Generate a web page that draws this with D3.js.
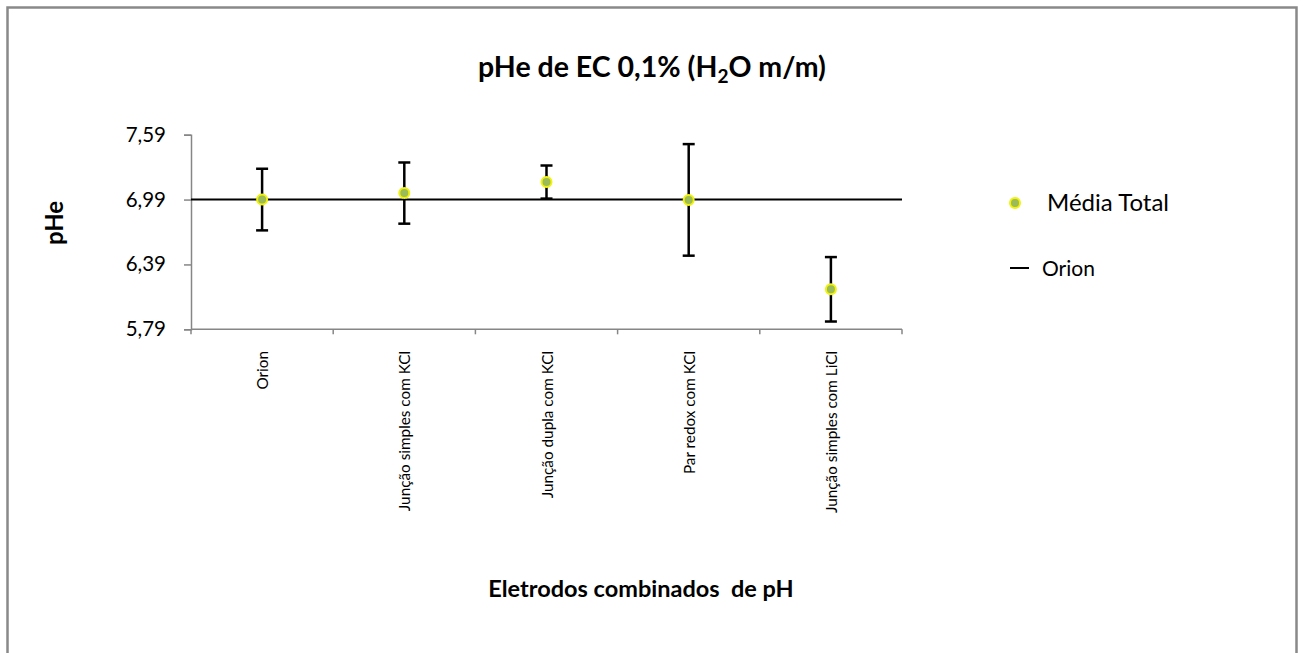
<!DOCTYPE html>
<html>
<head>
<meta charset="utf-8">
<script src="https://cdn.jsdelivr.net/npm/d3@7"></script>
<style>
  body { margin: 0; background: #fff; }
  text { font-family: Lato, "Open Sans", sans-serif; fill: #000; }
</style>
</head>
<body>
<svg width="1303" height="653"></svg>
<script>
// chart data
var categories = ["Orion", "Junção simples com KCl", "Junção dupla com KCl", "Par redox com KCl", "Junção simples com LiCl"];
var means = [6.99, 7.05, 7.152, 6.987, 6.16];
var errors = [0.285, 0.283, 0.153, 0.516, 0.298];
var orionRef = 6.99;
var yTicks = [5.79, 6.39, 6.99, 7.59];

var svg = d3.select("svg");

// outer frame
svg.append("rect")
  .attr("x", 7.5).attr("y", 7.5)
  .attr("width", 1289).attr("height", 660)
  .attr("fill", "#fff")
  .attr("stroke", "#898989")
  .attr("stroke-width", 2.5);

var plotLeft = 191, plotRight = 902, plotTop = 134.7, plotBottom = 329.3;

var x = d3.scaleBand().domain(categories).range([plotLeft, plotRight]);
var y = d3.scaleLinear().domain([5.79, 7.59]).range([plotBottom, plotTop]);

// y axis
var yAxis = svg.append("g")
  .attr("transform", "translate(" + plotLeft + ",0)")
  .call(d3.axisLeft(y).tickValues(yTicks).tickSize(7).tickPadding(18)
    .tickFormat(function(d) { return d3.format(".2f")(d).replace(".", ","); }));
yAxis.select(".domain").attr("stroke", "#868686").attr("stroke-width", 1.5);
yAxis.selectAll(".tick line").attr("stroke", "#868686").attr("stroke-width", 1.5);
yAxis.selectAll(".tick text").attr("font-size", 20.5).attr("font-family", "Lato, sans-serif").attr("fill", "#000");

// x axis: ticks on category boundaries
var xAxisG = svg.append("g");
xAxisG.append("line")
  .attr("x1", plotLeft).attr("x2", plotRight)
  .attr("y1", plotBottom).attr("y2", plotBottom)
  .attr("stroke", "#868686").attr("stroke-width", 1.5);
var bounds = categories.map(function(c) { return x(c); }).concat([plotRight]);
xAxisG.selectAll(".bt").data(bounds).enter().append("line")
  .attr("x1", function(d) { return d; }).attr("x2", function(d) { return d; })
  .attr("y1", plotBottom).attr("y2", plotBottom + 5)
  .attr("stroke", "#868686").attr("stroke-width", 1.5);
xAxisG.selectAll(".xl").data(categories).enter().append("text")
  .attr("transform", function(d) {
    return "translate(" + (x(d) + x.bandwidth() / 2 + 6) + ",351) rotate(-90)";
  })
  .attr("text-anchor", "end")
  .attr("font-size", 15.3)
  .text(function(d) { return d; });

// Orion reference line
svg.append("line")
  .attr("x1", plotLeft).attr("x2", plotRight)
  .attr("y1", y(orionRef)).attr("y2", y(orionRef))
  .attr("stroke", "#000").attr("stroke-width", 2);

// error bars
var bars = svg.append("g").selectAll("g").data(categories).enter().append("g")
  .attr("transform", function(d) { return "translate(" + (x(d) + x.bandwidth() / 2) + ",0)"; });
bars.append("line")
  .attr("y1", function(d, i) { return y(means[i] + errors[i]); })
  .attr("y2", function(d, i) { return y(means[i] - errors[i]); })
  .attr("stroke", "#000").attr("stroke-width", 2.5);
bars.append("line")
  .attr("x1", -6).attr("x2", 6)
  .attr("y1", function(d, i) { return y(means[i] + errors[i]); })
  .attr("y2", function(d, i) { return y(means[i] + errors[i]); })
  .attr("stroke", "#000").attr("stroke-width", 2.5);
bars.append("line")
  .attr("x1", -6).attr("x2", 6)
  .attr("y1", function(d, i) { return y(means[i] - errors[i]); })
  .attr("y2", function(d, i) { return y(means[i] - errors[i]); })
  .attr("stroke", "#000").attr("stroke-width", 2.5);
bars.append("circle")
  .attr("cy", function(d, i) { return y(means[i]); })
  .attr("r", 5)
  .attr("fill", "#9BBB59")
  .attr("stroke", "#F2F20A")
  .attr("stroke-width", 2);

// title
var title = svg.append("text")
  .attr("x", 652).attr("y", 77)
  .attr("text-anchor", "middle")
  .attr("font-size", 28.5)
  .attr("font-weight", "bold");
title.append("tspan").text("pHe de EC 0,1% (H");
title.append("tspan").attr("font-size", 19).attr("dy", 6).text("2");
title.append("tspan").attr("dy", -6).text("O m/m)");

// axis titles
svg.append("text")
  .attr("transform", "translate(63,223) rotate(-90)")
  .attr("text-anchor", "middle")
  .attr("font-size", 24)
  .attr("font-weight", "bold")
  .text("pHe");
svg.append("text")
  .attr("x", 641).attr("y", 597)
  .attr("text-anchor", "middle")
  .attr("font-size", 23.5)
  .attr("font-weight", "bold")
  .style("white-space", "pre")
  .text("Eletrodos combinados  de pH");

// legend
svg.append("circle")
  .attr("cx", 1015).attr("cy", 203).attr("r", 5)
  .attr("fill", "#9BBB59").attr("stroke", "#F2F20A").attr("stroke-width", 2);
svg.append("text")
  .attr("x", 1047).attr("y", 211)
  .attr("font-size", 24)
  .text("Média Total");
svg.append("line")
  .attr("x1", 1010).attr("x2", 1029).attr("y1", 268).attr("y2", 268)
  .attr("stroke", "#000").attr("stroke-width", 2);
svg.append("text")
  .attr("x", 1042).attr("y", 276)
  .attr("font-size", 21)
  .text("Orion");
</script>
</body>
</html>
